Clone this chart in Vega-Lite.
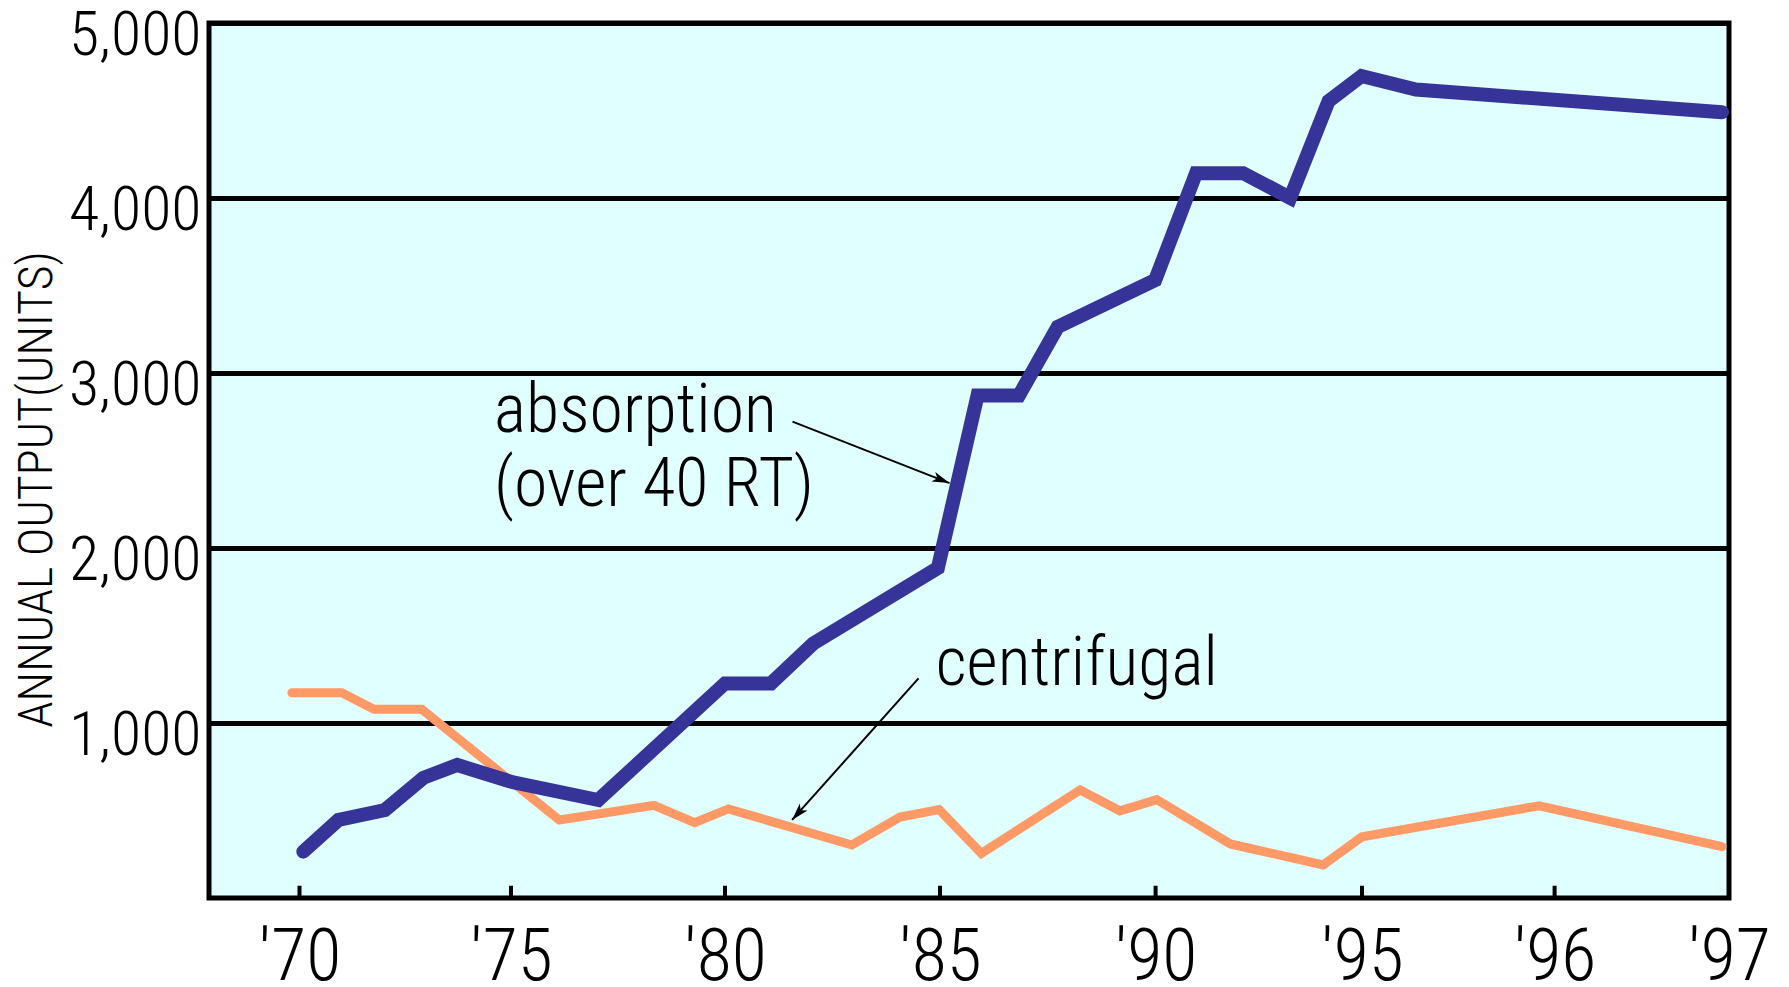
{
  "$schema": "https://vega.github.io/schema/vega-lite/v6.json",
  "width": 1520,
  "height": 875,
  "autosize": {"type": "none"},
  "padding": {"left": 209, "top": 23, "right": 60, "bottom": 89},
  "background": "white",
  "config": {
    "view": {"stroke": "black", "strokeWidth": 5, "fill": "#e0ffff"},
    "font": "Roboto Condensed, Open Sans Condensed, DejaVu Sans Condensed, sans-serif"
  },
  "datasets": {
    "series": [
      {"series": "centrifugal", "year": 1969.82, "units": 1173},
      {"series": "centrifugal", "year": 1971.0, "units": 1173},
      {"series": "centrifugal", "year": 1971.76, "units": 1078},
      {"series": "centrifugal", "year": 1972.89, "units": 1078},
      {"series": "centrifugal", "year": 1976.13, "units": 446},
      {"series": "centrifugal", "year": 1978.34, "units": 529},
      {"series": "centrifugal", "year": 1979.29, "units": 431},
      {"series": "centrifugal", "year": 1980.08, "units": 509},
      {"series": "centrifugal", "year": 1982.95, "units": 303},
      {"series": "centrifugal", "year": 1984.07, "units": 462},
      {"series": "centrifugal", "year": 1984.98, "units": 505},
      {"series": "centrifugal", "year": 1985.96, "units": 255},
      {"series": "centrifugal", "year": 1988.25, "units": 617},
      {"series": "centrifugal", "year": 1989.17, "units": 498},
      {"series": "centrifugal", "year": 1990.03, "units": 562},
      {"series": "centrifugal", "year": 1991.81, "units": 309},
      {"series": "centrifugal", "year": 1994.06, "units": 189},
      {"series": "centrifugal", "year": 1995.0, "units": 350},
      {"series": "centrifugal", "year": 1995.92, "units": 527},
      {"series": "centrifugal", "year": 1996.96, "units": 293},
      {"series": "absorption", "year": 1970.09, "units": 265},
      {"series": "absorption", "year": 1970.92, "units": 446},
      {"series": "absorption", "year": 1972.02, "units": 503},
      {"series": "absorption", "year": 1972.93, "units": 687},
      {"series": "absorption", "year": 1973.73, "units": 760},
      {"series": "absorption", "year": 1975.05, "units": 661},
      {"series": "absorption", "year": 1977.04, "units": 560},
      {"series": "absorption", "year": 1980.0, "units": 1226},
      {"series": "absorption", "year": 1981.07, "units": 1226},
      {"series": "absorption", "year": 1982.05, "units": 1454},
      {"series": "absorption", "year": 1984.95, "units": 1886},
      {"series": "absorption", "year": 1985.87, "units": 2871},
      {"series": "absorption", "year": 1986.83, "units": 2871},
      {"series": "absorption", "year": 1987.73, "units": 3263},
      {"series": "absorption", "year": 1989.99, "units": 3531},
      {"series": "absorption", "year": 1990.98, "units": 4142},
      {"series": "absorption", "year": 1992.12, "units": 4142},
      {"series": "absorption", "year": 1993.26, "units": 4001},
      {"series": "absorption", "year": 1994.19, "units": 4554},
      {"series": "absorption", "year": 1994.99, "units": 4697},
      {"series": "absorption", "year": 1995.28, "units": 4620},
      {"series": "absorption", "year": 1996.96, "units": 4490}
    ],
    "labels": [
      {"text": "absorption", "year": 1974.6, "units": 2663},
      {"text": "(over 40 RT)", "year": 1974.6, "units": 2240},
      {"text": "centrifugal", "year": 1984.9, "units": 1217}
    ],
    "arrows": [
      {"name": "absorption", "year": 1981.57, "units": 2722, "year2": 1985.22, "units2": 2371},
      {"name": "centrifugal", "year": 1984.5, "units": 1255, "year2": 1981.56, "units2": 446}
    ],
    "ticks": [
      {"year": 1970, "units": 0},
      {"year": 1975, "units": 0},
      {"year": 1980, "units": 0},
      {"year": 1985, "units": 0},
      {"year": 1990, "units": 0},
      {"year": 1995, "units": 0},
      {"year": 1996, "units": 0}
    ]
  },
  "layer": [
    {
      "data": {"name": "series"},
      "transform": [{"filter": "datum.series == 'centrifugal'"}],
      "mark": {"type": "line", "color": "#FF9966", "strokeWidth": 9, "strokeCap": "round", "strokeJoin": "miter"},
      "encoding": {
        "x": {
          "field": "year",
          "type": "quantitative",
          "scale": {
            "domain": [1967.86, 1970, 1975, 1980, 1985, 1990, 1995, 1996, 1997],
            "range": [0, 90.5, 302, 516, 731, 946.6, 1153, 1345.6, 1520],
            "nice": false,
            "zero": false
          },
          "axis": {
            "values": [1970, 1975, 1980, 1985, 1990, 1995, 1996, 1997],
            "labelExpr": "\"'\" + substring(toString(datum.value), 2, 4)",
            "title": null,
            "grid": false,
            "domain": false,
            "ticks": false,
            "tickSize": 0,
            "labelFontSize": 72,
            "labelFontWeight": 300,
            "labelColor": "black",
            "labelBaseline": "alphabetic",
            "labelAlign": "center",
            "labelPadding": 81,
            "labelFlush": false,
            "labelOverlap": false
          }
        },
        "y": {
          "field": "units",
          "type": "quantitative",
          "scale": {"domain": [0, 5000], "nice": false},
          "axis": {
            "values": [1000, 2000, 3000, 4000, 5000],
            "format": ",.0f",
            "grid": true,
            "gridColor": "black",
            "gridWidth": 5,
            "domain": false,
            "ticks": false,
            "tickSize": 0,
            "labelPadding": 8,
            "labelFontSize": 62,
            "labelFontWeight": 300,
            "labelColor": "black",
            "labelBaseline": "alphabetic",
            "labelOffset": 31,
            "labelFlush": false,
            "labelOverlap": false,
            "title": "ANNUAL OUTPUT(UNITS)",
            "titleFontSize": 48,
            "titleFontWeight": 300,
            "titleColor": "black",
            "titleX": -158,
            "titleY": 466,
            "titleAlign": "center",
            "titleBaseline": "alphabetic"
          }
        }
      }
    },
    {
      "data": {"name": "series"},
      "transform": [{"filter": "datum.series == 'absorption'"}],
      "mark": {"type": "line", "color": "#363399", "strokeWidth": 14, "strokeCap": "round", "strokeJoin": "miter"},
      "encoding": {
        "x": {"field": "year", "type": "quantitative"},
        "y": {"field": "units", "type": "quantitative"}
      }
    },
    {
      "data": {"name": "ticks"},
      "mark": {"type": "rule", "color": "black", "strokeWidth": 4, "strokeCap": "butt"},
      "encoding": {
        "x": {"field": "year", "type": "quantitative"},
        "y": {"field": "units", "type": "quantitative"},
        "y2": {"datum": 70}
      }
    },
    {
      "data": {"name": "arrows"},
      "mark": {"type": "rule", "color": "black", "strokeWidth": 2},
      "encoding": {
        "x": {"field": "year", "type": "quantitative"},
        "y": {"field": "units", "type": "quantitative"},
        "x2": {"field": "year2"},
        "y2": {"field": "units2"}
      }
    },
    {
      "data": {"name": "arrows"},
      "transform": [{"filter": "datum.name == 'absorption'"}],
      "mark": {"type": "point", "shape": "M0,0 L-2,-0.6 L-1.5,0 L-2,0.6 Z", "filled": true, "color": "black", "opacity": 1, "size": 300, "angle": 21.4, "strokeWidth": 0},
      "encoding": {
        "x": {"field": "year2", "type": "quantitative"},
        "y": {"field": "units2", "type": "quantitative"}
      }
    },
    {
      "data": {"name": "arrows"},
      "transform": [{"filter": "datum.name == 'centrifugal'"}],
      "mark": {"type": "point", "shape": "M0,0 L-2,-0.6 L-1.5,0 L-2,0.6 Z", "filled": true, "color": "black", "opacity": 1, "size": 300, "angle": 131.8, "strokeWidth": 0},
      "encoding": {
        "x": {"field": "year2", "type": "quantitative"},
        "y": {"field": "units2", "type": "quantitative"}
      }
    },
    {
      "data": {"name": "labels"},
      "mark": {"type": "text", "align": "left", "baseline": "alphabetic", "fontSize": 68, "fontWeight": 300, "color": "black"},
      "encoding": {
        "x": {"field": "year", "type": "quantitative"},
        "y": {"field": "units", "type": "quantitative"},
        "text": {"field": "text"}
      }
    }
  ]
}
